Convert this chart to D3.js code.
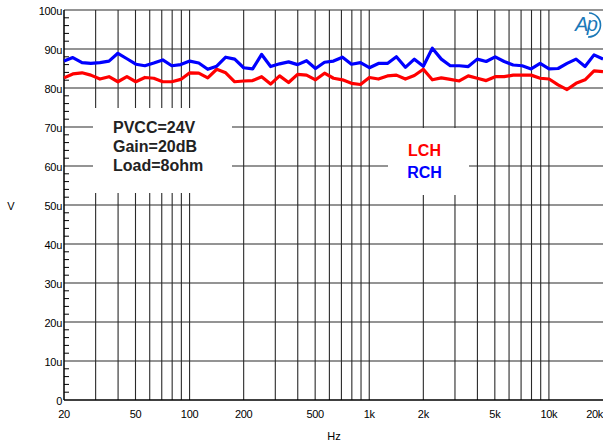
<!DOCTYPE html>
<html><head><meta charset="utf-8">
<script src="https://cdn.jsdelivr.net/npm/d3@7"></script>
<style>
html,body{margin:0;padding:0;background:#fff;}
svg{display:block;font-family:Arial,"Liberation Sans",sans-serif;}
</style></head>
<body><svg id="c" width="603" height="447"></svg>
<script>
// ---- data ----
const freqs = [20, 22.4, 25.2, 28.2, 31.7, 35.6, 39.9, 44.8, 50.2, 56.4, 63.2, 70.9, 79.6, 89.3, 100.2, 112.5, 126.2, 141.6, 158.9, 178.3, 200, 224.4, 251.8, 282.5, 317, 355.7, 399.1, 447.7, 502.4, 563.7, 632.5, 709.6, 796.2, 893.4, 1002, 1125, 1262, 1416, 1589, 1783, 2000, 2244, 2518, 2825, 3170, 3557, 3991, 4477, 5024, 5637, 6325, 7096, 7962, 8934, 10024, 11247, 12619, 14159, 15887, 17825, 20000];
const lch = [82.6, 83.6, 83.9, 83.3, 82.3, 82.9, 81.6, 82.9, 81.6, 82.7, 82.5, 81.6, 81.6, 82.2, 83.9, 83.8, 82.6, 84.8, 83.9, 81.6, 81.8, 81.9, 82.9, 81.0, 83.1, 81.4, 83.5, 83.3, 82.1, 83.8, 82.5, 82.1, 81.2, 80.9, 82.7, 82.3, 83.1, 83.3, 82.3, 83.2, 84.8, 82.1, 82.6, 82.2, 81.8, 83.1, 82.5, 81.9, 82.9, 82.9, 83.3, 83.3, 83.3, 82.5, 82.3, 80.8, 79.6, 81.2, 82.1, 84.4, 84.2];
const rch = [86.9, 87.8, 86.5, 86.3, 86.5, 86.9, 88.9, 87.5, 86.1, 85.7, 86.4, 87.2, 85.7, 86.0, 86.9, 86.4, 84.8, 85.6, 87.9, 87.4, 85.2, 84.9, 88.6, 85.5, 86.2, 86.7, 86.0, 87.0, 85.0, 86.6, 86.9, 87.9, 86.1, 86.5, 85.2, 86.3, 86.3, 88.0, 85.3, 87.4, 85.6, 90.2, 87.4, 85.7, 85.7, 85.5, 87.4, 86.8, 88.0, 86.8, 85.9, 85.7, 84.9, 86.3, 84.9, 85.0, 86.3, 87.4, 85.5, 88.5, 87.4];
const xTickVals = [20, 50, 100, 200, 500, 1000, 2000, 5000, 10000, 20000];
const xTickLabels = ["20", "50", "100", "200", "500", "1k", "2k", "5k", "10k", "20k"];
const xGridVals = [30,40,50,60,70,80,90,100,200,300,400,500,600,700,800,900,1000,2000,3000,4000,5000,6000,7000,8000,9000,10000];
const yTickVals = [0,10,20,30,40,50,60,70,80,90,100];
const yTickLabels = ["0","10u","20u","30u","40u","50u","60u","70u","80u","90u","100u"];
const yMinorVals = d3.range(2, 100, 2).filter(v => v % 10 !== 0);
const notes = ["PVCC=24V", "Gain=20dB", "Load=8ohm"];
const legend = [{name: "LCH", color: "#ff0000"}, {name: "RCH", color: "#0000ff"}];

// ---- chart ----
const svg = d3.select("#c");
const L = 64, R = 603, T = 10, B = 400;
const x = d3.scaleLog().domain([20, 20000]).range([L, R]);
const y = d3.scaleLinear().domain([0, 100]).range([B, T]);
const gridCol = "#2a2a2a";

// vertical grid
svg.append("g").selectAll("line").data(xGridVals).join("line")
  .attr("x1", d => x(d)).attr("x2", d => x(d))
  .attr("y1", T).attr("y2", B)
  .attr("stroke", gridCol).attr("stroke-width", 1.1);
// horizontal grid
svg.append("g").selectAll("line").data(yTickVals.filter(v => v > 0)).join("line")
  .attr("x1", L).attr("x2", R)
  .attr("y1", d => y(d)).attr("y2", d => y(d))
  .attr("stroke", gridCol).attr("stroke-width", 1.1);
// minor y ticks
svg.append("g").selectAll("line").data(yMinorVals).join("line")
  .attr("x1", L).attr("x2", L + 5)
  .attr("y1", d => y(d)).attr("y2", d => y(d))
  .attr("stroke", "#000").attr("stroke-width", 1);

// white boxes (annotation areas)
svg.append("rect").attr("x", 93).attr("y", 108).attr("width", 139).attr("height", 85).attr("fill", "#fff");
svg.append("rect").attr("x", 388).attr("y", 128).attr("width", 81).attr("height", 67).attr("fill", "#fff");

// axes lines
svg.append("line").attr("x1", L).attr("x2", L).attr("y1", T).attr("y2", B).attr("stroke", "#000").attr("stroke-width", 1.5);
svg.append("line").attr("x1", L).attr("x2", R).attr("y1", B).attr("y2", B).attr("stroke", "#000").attr("stroke-width", 1.5);

// y tick labels
svg.append("g").selectAll("text").data(yTickVals).join("text")
  .attr("x", 62).attr("y", d => y(d) + 4.5)
  .attr("text-anchor", "end").attr("font-size", 11).attr("fill", "#000")
  .attr("letter-spacing", -0.3)
  .text((d, i) => yTickLabels[i]);
// x tick labels
svg.append("g").selectAll("text").data(xTickVals).join("text")
  .attr("x", d => d === 20000 ? R : x(d)).attr("y", 418)
  .attr("text-anchor", d => d === 20000 ? "end" : "middle")
  .attr("font-size", 11).attr("fill", "#000").attr("letter-spacing", -0.3)
  .text((d, i) => xTickLabels[i]);
// axis titles
svg.append("text").attr("x", 334).attr("y", 440).attr("text-anchor", "middle").attr("font-size", 11).text("Hz");
svg.append("text").attr("x", 11).attr("y", 210).attr("text-anchor", "middle").attr("font-size", 11).text("V");

// curves
const line = d3.line().x((d, i) => x(freqs[i])).y(d => y(d));
svg.append("path").datum(lch).attr("d", line).attr("fill", "none").attr("stroke", "#ff0000").attr("stroke-width", 3.2).attr("stroke-linejoin", "round");
svg.append("path").datum(rch).attr("d", line).attr("fill", "none").attr("stroke", "#0000ff").attr("stroke-width", 3.2).attr("stroke-linejoin", "round");

// annotation text
svg.append("g").selectAll("text").data(notes).join("text")
  .attr("x", 113).attr("y", (d, i) => 132.5 + i * 19.2)
  .attr("font-size", 16).attr("font-weight", "bold").attr("fill", "#222")
  .text(d => d);
svg.append("g").selectAll("text").data(legend).join("text")
  .attr("x", 424.5).attr("y", (d, i) => 156 + i * 22)
  .attr("text-anchor", "middle").attr("font-size", 16).attr("font-weight", "bold")
  .attr("fill", d => d.color).text(d => d.name);

// AP logo
const logo = svg.append("g");
logo.append("text").attr("x", 575).attr("y", 31).attr("font-size", 20).attr("font-style", "italic")
  .attr("fill", "#1a78b8").attr("letter-spacing", -1.5).text("Ap");
logo.append("path").attr("d", "M589,13 A12,12 0 0 1 588,37").attr("fill", "none")
  .attr("stroke", "#1a78b8").attr("stroke-width", 1.6);
</script></body></html>
